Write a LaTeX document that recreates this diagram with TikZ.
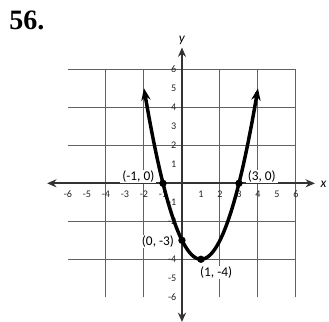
\documentclass[tikz,border=0pt]{standalone}
\usepackage{fontspec}
\setmainfont{Carlito}
\newfontfamily\titlefont{Liberation Serif}
\usetikzlibrary{arrows.meta}
\begin{document}
\begin{tikzpicture}[x=0.5cm,y=0.5cm,
  gridline/.style={draw=black!62,line width=0.75pt},
  axisline/.style={draw=black!80,line width=1.3pt,-{Stealth[length=7pt,width=6pt]}},
  ticklbl/.style={font=\fontsize{7.6}{9}\selectfont,text=black!85,inner sep=0.5pt},
  ptlbl/.style={font=\fontsize{10}{12}\selectfont,inner xsep=1.5pt,inner ysep=0.5pt,fill=white},
  dotnode/.style={circle,fill=black,inner sep=0pt,minimum size=5.5pt},
  curveline/.style={line width=2.6pt,black}]
\useasboundingbox (-9.58,-7.3) rectangle (7.74,9.65);
% title
\node[anchor=west,font=\titlefont\bfseries\fontsize{21}{24}\selectfont,inner sep=0pt] (title) at (-9.1,8.55) {56.};
% grid
\draw[gridline] (-6,-6) grid (6,6);
% axes
\coordinate (xl) at (-7.1,0);
\coordinate (xr) at (7.0,0);
\coordinate (yt) at (0,7.15);
\coordinate (yb) at (0,-7.3);
\draw[axisline] (0,0) -- (xr);
\draw[axisline] (0,0) -- (xl);
\draw[axisline] (0,0) -- (yt);
\draw[axisline] (0,0) -- (yb);
\node[font=\itshape\fontsize{10}{12}\selectfont] (xlab) at (7.45,-0.05) {x};
\node[font=\itshape\fontsize{10}{12}\selectfont] (ylab) at (0,7.55) {y};
% tick labels
\foreach \i in {-6,-5,-4,-3,-2,-1,1,2,3,4,5,6}{
  \node[ticklbl] (tx\i) at (\i,-0.58) {\i};
}
\foreach \i in {-6,-5,-4,-2,-1,1,2,3,4,5,6}{
  \node[ticklbl,anchor=east] (ty\i) at (-0.25,\i) {\i};
}
% curve
\draw[curveline,{Stealth[length=9pt,width=7pt]}-{Stealth[length=9pt,width=7pt]}] plot[domain=-2:4,samples=80,smooth] (\x,{(\x-1)^2-4});
% point labels
\node[ptlbl] (l1) at (-2.3,0.36) {(-1, 0)};
\node[ptlbl] (l4) at (4.2,0.38) {(3, 0)};
\node[ptlbl,anchor=east] (l2) at (-0.3,-3.05) {(0, -3)};
\node[ptlbl] (l3) at (1.8,-4.72) {(1, -4)};
% points
\node[dotnode] (p1) at (-1,0) {};
\node[dotnode] (p2) at (0,-3) {};
\node[dotnode] (p3) at (1,-4) {};
\node[dotnode] (p4) at (3,0) {};
\end{tikzpicture}
\end{document}
